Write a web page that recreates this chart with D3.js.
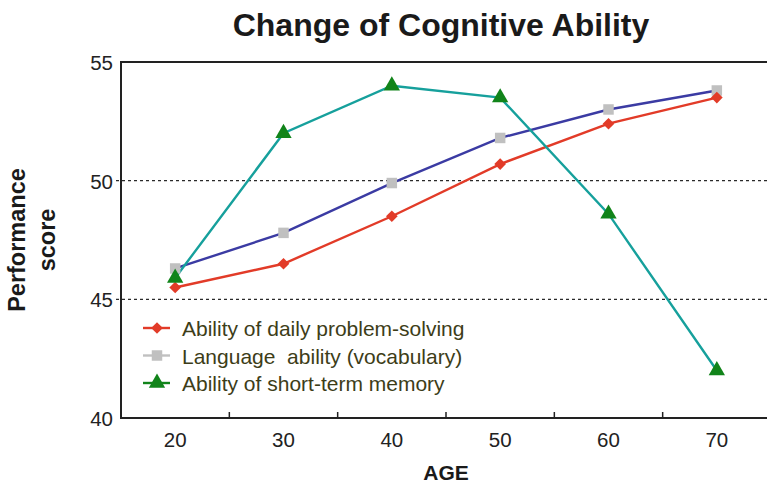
<!DOCTYPE html>
<html>
<head>
<meta charset="utf-8">
<script src="https://cdn.jsdelivr.net/npm/d3@7"></script>
<style>
  body { margin: 0; background: #fff; }
  text { font-family: "Liberation Sans", Arial, sans-serif; }
  text.legend { white-space: pre; }
</style>
</head>
<body>
<div id="chart"></div>
<script>
var ages = [20, 30, 40, 50, 60, 70];
var problemSolving = [45.5, 46.5, 48.5, 50.7, 52.4, 53.5];
var language = [46.3, 47.8, 49.9, 51.8, 53.0, 53.8];
var memory = [45.9, 52.0, 54.0, 53.5, 48.6, 42.0];
var yTicks = [40, 45, 50, 55];
var gridValues = [45, 50];
var legendLabels = ["Ability of daily problem-solving", "Language  ability (vocabulary)", "Ability of short-term memory"];

var w = 767, h = 486;
var plotLeft = 121, plotTop = 62, plotRight = 771, plotBottom = 418;

var svg = d3.select("#chart").append("svg")
    .attr("width", w)
    .attr("height", h);

var x = d3.scaleLinear().domain([15, 75]).range([plotLeft, plotRight]);
var y = d3.scaleLinear().domain([40, 55]).range([plotBottom, plotTop]);

// title
svg.append("text")
    .attr("x", 441).attr("y", 36)
    .attr("text-anchor", "middle")
    .attr("font-size", 32).attr("font-weight", "bold")
    .attr("fill", "#1a1a1a")
    .text("Change of Cognitive Ability");

// dashed grid
svg.selectAll(".grid").data(gridValues).enter().append("line")
    .attr("x1", plotLeft - 5).attr("x2", w)
    .attr("y1", d => y(d)).attr("y2", d => y(d))
    .attr("stroke", "#2a2a2a").attr("stroke-width", 1.2)
    .attr("stroke-dasharray", "3,3");

// frame
svg.append("line").attr("x1", plotLeft).attr("x2", w).attr("y1", plotTop).attr("y2", plotTop)
    .attr("stroke", "#222").attr("stroke-width", 2);
svg.append("line").attr("x1", plotLeft).attr("x2", plotLeft).attr("y1", plotTop - 1).attr("y2", plotBottom + 1)
    .attr("stroke", "#222").attr("stroke-width", 2);
svg.append("line").attr("x1", plotLeft).attr("x2", w).attr("y1", plotBottom).attr("y2", plotBottom)
    .attr("stroke", "#222").attr("stroke-width", 2);

// y labels
svg.selectAll(".ylab").data(yTicks).enter().append("text")
    .attr("x", 113).attr("y", d => y(d) + 8)
    .attr("text-anchor", "end")
    .attr("font-size", 20.5).attr("fill", "#222")
    .text(d => d);

// x ticks between categories
var midTicks = ages.slice(0, -1).map(a => a + 5);
svg.selectAll(".xtick").data(midTicks).enter().append("line")
    .attr("x1", d => x(d)).attr("x2", d => x(d))
    .attr("y1", plotBottom).attr("y2", plotBottom - 6)
    .attr("stroke", "#222").attr("stroke-width", 1.5);
svg.selectAll(".xlab").data(ages).enter().append("text")
    .attr("x", d => x(d)).attr("y", 447)
    .attr("text-anchor", "middle")
    .attr("font-size", 20.5).attr("fill", "#222")
    .text(d => d);

// axis titles
svg.append("text")
    .attr("x", 446).attr("y", 480)
    .attr("text-anchor", "middle")
    .attr("font-size", 21).attr("font-weight", "bold")
    .attr("fill", "#1a1a1a")
    .text("AGE");
var yt = svg.append("text")
    .attr("transform", "translate(25,240) rotate(-90)")
    .attr("text-anchor", "middle")
    .attr("font-size", 23.5).attr("font-weight", "bold")
    .attr("fill", "#1a1a1a");
yt.append("tspan").attr("x", 0).attr("dy", 0).text("Performance");
yt.append("tspan").attr("x", 0).attr("dy", 30).text("score");

var line = d3.line().x((d, i) => x(ages[i])).y(d => y(d));

var series = [
    { values: language, line: "#3b3ba3", marker: "#c0c0c0", shape: d3.symbolSquare, size: 110, rot: 0, legendLine: "#c0c0c0" },
    { values: problemSolving, line: "#e23b28", marker: "#e23b28", shape: d3.symbolSquare, size: 68, rot: 45, legendLine: "#e23b28" },
    { values: memory, line: "#16a09c", marker: "#11841a", shape: d3.symbolTriangle, size: 115, rot: 0, legendLine: "#11841a" }
];

series.forEach(function (s) {
    svg.append("path")
        .datum(s.values)
        .attr("d", line)
        .attr("fill", "none")
        .attr("stroke", s.line)
        .attr("stroke-width", 2.4);
});
series.forEach(function (s) {
    svg.selectAll(null).data(s.values).enter().append("path")
        .attr("d", d3.symbol().type(s.shape).size(s.size))
        .attr("transform", (d, i) => "translate(" + x(ages[i]) + "," + y(d) + ") rotate(" + s.rot + ")")
        .attr("fill", s.marker);
});

// legend
var legendOrder = [series[1], series[0], series[2]];
legendOrder.forEach(function (s, i) {
    var ly = 328 + i * 27.5;
    svg.append("line")
        .attr("x1", 143).attr("x2", 170)
        .attr("y1", ly).attr("y2", ly)
        .attr("stroke", s.legendLine).attr("stroke-width", 2.4);
    svg.append("path")
        .attr("d", d3.symbol().type(s.shape).size(s.size))
        .attr("transform", "translate(157," + ly + ") rotate(" + s.rot + ")")
        .attr("fill", s.marker);
    svg.append("text")
        .attr("class", "legend")
        .attr("x", 182).attr("y", ly + 8)
        .attr("font-size", 21).attr("fill", "#3d3d18")
        .text(legendLabels[i]);
});
</script>
</body>
</html>
